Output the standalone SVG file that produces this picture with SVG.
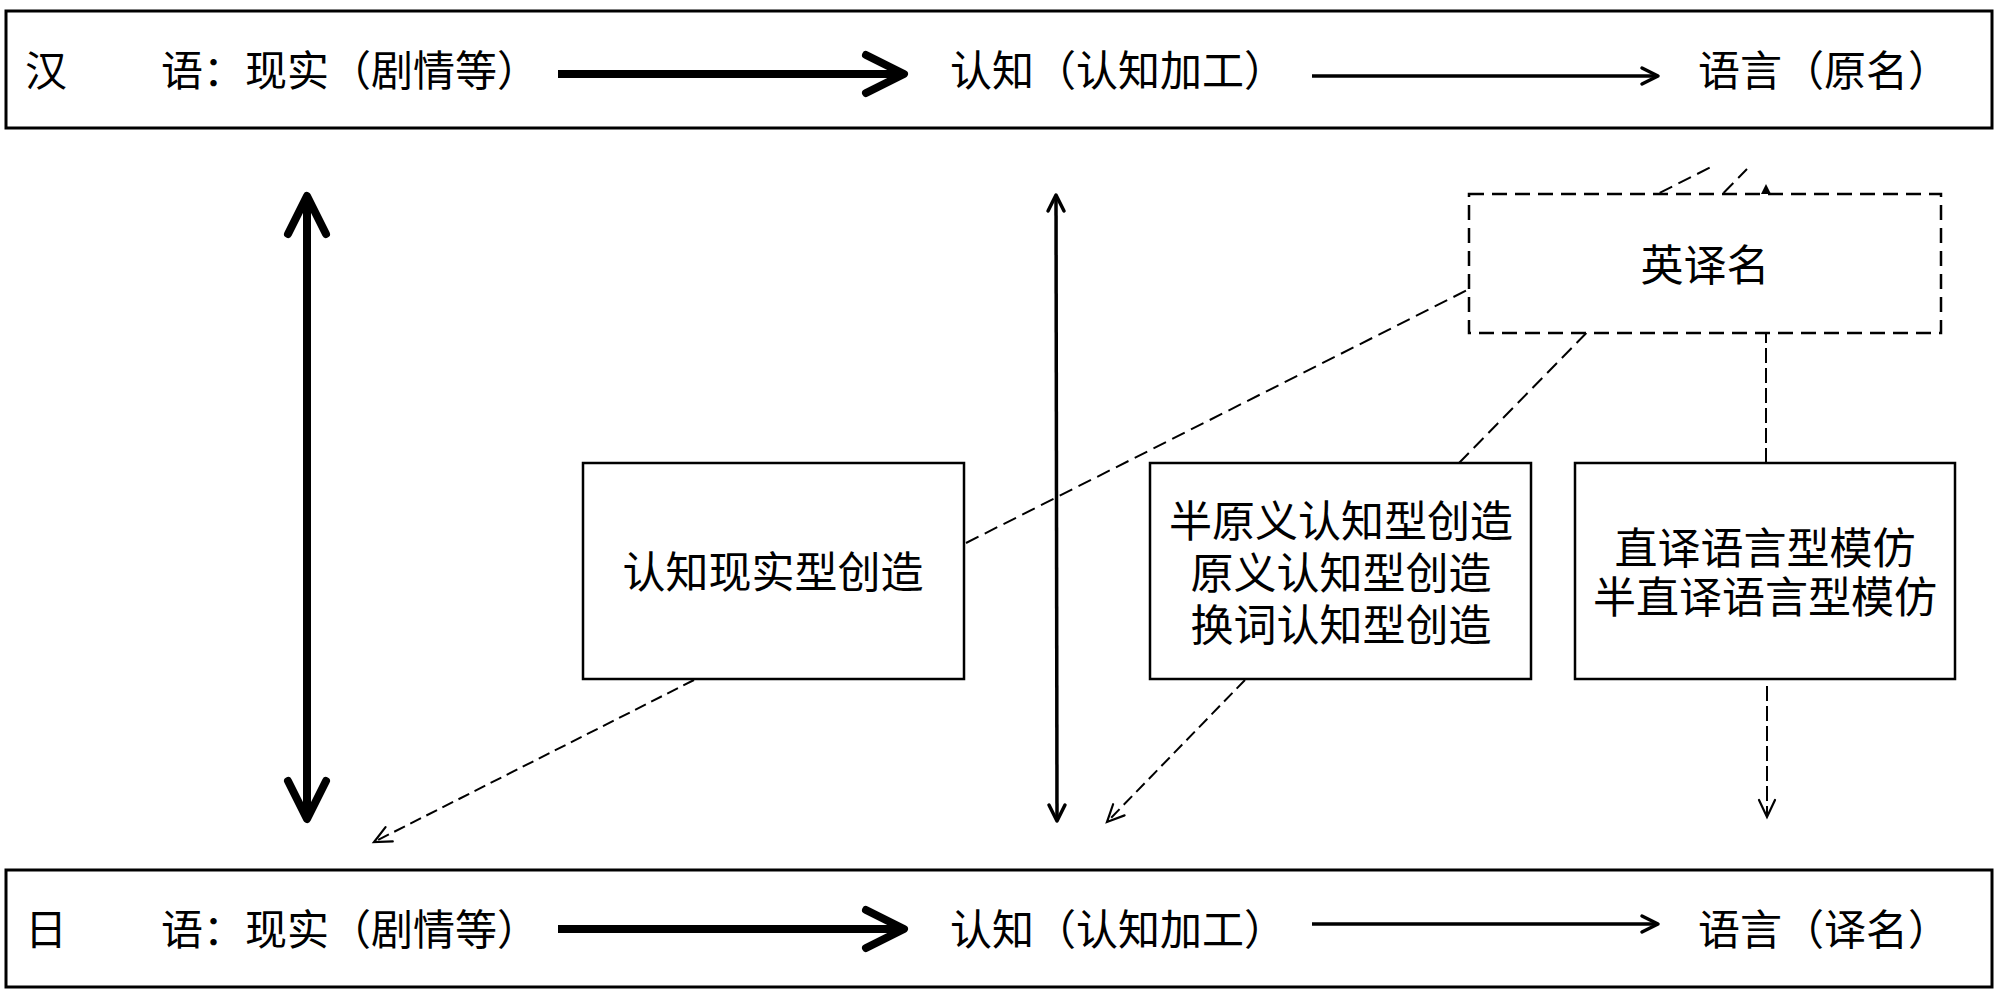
<svg xmlns="http://www.w3.org/2000/svg" width="2000" height="992" viewBox="0 0 2000 992">
<style>
text{font-family:"Noto Sans CJK SC","Noto Sans",sans-serif;fill:#000}
.row{font-size:42px}
.lbl{font-size:43px;text-anchor:middle}
.frame{fill:#fff;stroke:#000;stroke-width:3}
.box{fill:#fff;stroke:#000;stroke-width:2.5}
.dbox{fill:#fff;stroke:#000;stroke-width:2.5;stroke-dasharray:15 8}
.thick{fill:none;stroke:#000;stroke-width:8}
.thin{fill:none;stroke:#000;stroke-width:3.5}
.dash{fill:none;stroke:#000;stroke-width:2;stroke-dasharray:14 7}
.dash2{fill:none;stroke:#000;stroke-width:2;stroke-dasharray:12 6}
.dash3{fill:none;stroke:#000;stroke-width:2;stroke-dasharray:15 5}
</style>
<defs>
<marker id="mThick" markerUnits="userSpaceOnUse" viewBox="-46 -26 52 52" markerWidth="52" markerHeight="52" refX="0" refY="0" orient="auto-start-reverse">
<path d="M-38,-19 L0,0 L-38,19" fill="none" stroke="#000" stroke-width="8" stroke-linecap="round" stroke-linejoin="round"/>
</marker>
<marker id="mThin" markerUnits="userSpaceOnUse" viewBox="-22 -12 26 24" markerWidth="26" markerHeight="24" refX="0" refY="0" orient="auto-start-reverse">
<path d="M-16,-8 L0,0 L-16,8" fill="none" stroke="#000" stroke-width="3.5" stroke-linecap="round" stroke-linejoin="round"/>
</marker>
<marker id="mOpen" markerUnits="userSpaceOnUse" viewBox="-22 -12 26 24" markerWidth="26" markerHeight="24" refX="0" refY="0" orient="auto">
<path d="M-17,-8 L0,0 L-17,8" fill="none" stroke="#000" stroke-width="2.2" stroke-linecap="round" stroke-linejoin="miter"/>
</marker>
<marker id="mTri" markerUnits="userSpaceOnUse" viewBox="-12 -7 14 14" markerWidth="14" markerHeight="14" refX="0" refY="0" orient="auto">
<path d="M-10,-5 L0,0 L-10,5 Z" fill="#000"/>
</marker>
</defs>

<g id="top-row">
<rect class="frame" x="6" y="11" width="1986" height="117"/>
<text class="row" x="25" y="86">汉</text>
<text class="row" x="161" y="86">语：现实（剧情等）</text>
<text class="row" x="950" y="86">认知（认知加工）</text>
<text class="row" x="1698" y="86">语言（原名）</text>
</g>

<g id="bottom-row">
<rect class="frame" x="6" y="870" width="1986" height="117"/>
<text class="row" x="25" y="945">日</text>
<text class="row" x="161" y="945">语：现实（剧情等）</text>
<text class="row" x="950" y="945">认知（认知加工）</text>
<text class="row" x="1698" y="945">语言（译名）</text>
</g>

<g id="connectors">
<line class="thick" x1="558" y1="74" x2="904" y2="74" marker-end="url(#mThick)"/>
<line class="thin" x1="1312" y1="76" x2="1658" y2="76" marker-end="url(#mThin)"/>
<line class="thick" x1="558" y1="929" x2="904" y2="929" marker-end="url(#mThick)"/>
<line class="thin" x1="1312" y1="924" x2="1658" y2="924" marker-end="url(#mThin)"/>
<line class="thick" x1="307" y1="196" x2="307" y2="819" marker-start="url(#mThick)" marker-end="url(#mThick)"/>
<line class="thin" x1="1056" y1="195" x2="1057" y2="821" marker-start="url(#mThin)" marker-end="url(#mThin)"/>
<line class="dash" x1="966" y1="543" x2="1713" y2="166"/>
<line class="dash" x1="1459" y1="463" x2="1747" y2="169"/>
<line class="dash3" x1="1766" y1="463" x2="1766" y2="184" marker-end="url(#mTri)"/>
<line class="dash2" x1="694" y1="680" x2="374" y2="842" marker-end="url(#mOpen)"/>
<line class="dash2" x1="1245" y1="680" x2="1107" y2="822" marker-end="url(#mOpen)"/>
<line class="dash3" x1="1767" y1="686" x2="1767" y2="817" marker-end="url(#mOpen)"/>
</g>

<g id="node-yingyiming">
<rect class="dbox" x="1469" y="194" width="472" height="139"/>
<text class="lbl" x="1705" y="281">英译名</text>
</g>

<g id="node-renzhi-xianshi">
<rect class="box" x="583" y="463" width="381" height="216"/>
<text class="lbl" x="773" y="588">认知现实型创造</text>
</g>

<g id="node-renzhi-chuangzao">
<rect class="box" x="1150" y="463" width="381" height="216"/>
<text class="lbl" x="1341" y="537">半原义认知型创造</text>
<text class="lbl" x="1341" y="589">原义认知型创造</text>
<text class="lbl" x="1341" y="641">换词认知型创造</text>
</g>

<g id="node-yuyan-mofang">
<rect class="box" x="1575" y="463" width="380" height="216"/>
<text class="lbl" x="1765" y="564">直译语言型模仿</text>
<text class="lbl" x="1765" y="613">半直译语言型模仿</text>
</g>
</svg>
